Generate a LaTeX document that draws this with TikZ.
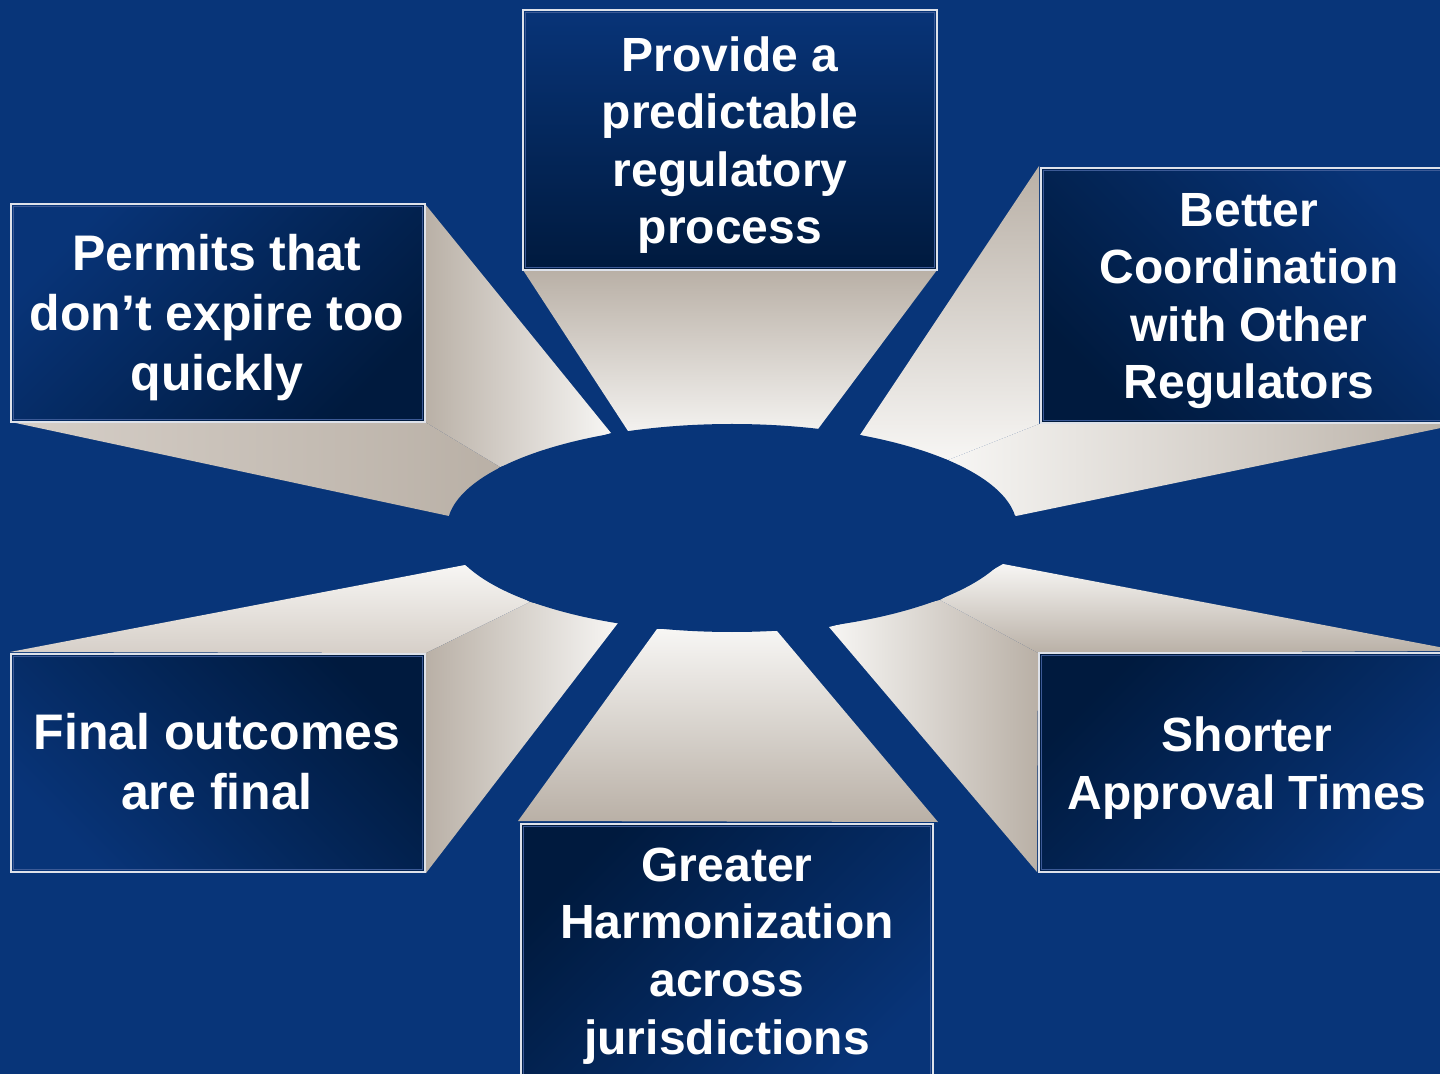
\documentclass[tikz,border=0pt]{standalone}
\usepackage{fontspec}
\setmainfont{Liberation Sans}
\usetikzlibrary{calc}
\definecolor{bg}{RGB}{8,53,121}
\definecolor{boxlight}{RGB}{8,52,120}
\definecolor{boxdark}{RGB}{0,26,62}
\definecolor{taupe}{RGB}{185,176,166}
\definecolor{lighttaupe}{RGB}{214,207,200}
\definecolor{beamwhite}{RGB}{247,246,244}
\definecolor{boxline}{RGB}{222,226,234}
\definecolor{boxinner}{RGB}{60,90,150}
\begin{document}
\begin{tikzpicture}[x=0.5pt,y=-0.5pt,
  panel/.style={draw=boxline, line width=1pt, inner sep=0pt, outer sep=0pt,
    top color=boxlight, bottom color=boxdark},
  innerline/.style={draw=boxinner, line width=0.5pt},
  txt/.style={text=white, font=\fontsize{24}{28.8}\selectfont\bfseries,
    align=center, inner sep=0pt},
  bigtxt/.style={txt, font=\fontsize{25}{30}\selectfont\bfseries}]
\useasboundingbox (0,0) rectangle (1440,1074);
\clip (0,0) rectangle (1440,1074);
\fill[bg] (0,0) rectangle (1440,1074);

% beam: top
\shade[top color=taupe, bottom color=beamwhite]
  (523,270) -- (628,431) -- (732,442) -- (818,429) -- (937,270) -- cycle;
% beam: Permits
\shade[left color=taupe, right color=beamwhite]
  (425,204) -- (611,433) -- (500,467) -- (425,422) -- cycle;
\shade[left color=lighttaupe, right color=taupe]
  (11,422) -- (425,422) -- (500,467) -- (449,516) -- cycle;
% beam: Better
\shade[top color=taupe, bottom color=beamwhite]
  (1039,166) -- (860,435) -- (948,460) -- (1039,424) -- cycle;
\shade[left color=beamwhite, right color=taupe]
  (1039,424) -- (1460,424) -- (1016,516) -- (948,460) -- cycle;
% beam: Final
\shade[top color=beamwhite, bottom color=lighttaupe]
  (10,652) -- (465,565) -- (530,602) -- (426,653) -- cycle;
\shade[left color=taupe, right color=beamwhite]
  (426,653) -- (530,602) -- (618,623) -- (426,873) -- cycle;
% beam: Shorter
\shade[left color=beamwhite, right color=taupe]
  (829,627) -- (940,600) -- (1038,653) -- (1037,872) -- cycle;
\shade[top color=beamwhite, bottom color=taupe]
  (940,600) -- (1003,564) -- (1460,651) -- (1038,653) -- cycle;
% beam: Greater
\shade[top color=beamwhite, bottom color=taupe]
  (518,821) -- (657,629) -- (777,631) -- (938,822) -- cycle;

% central ellipse
\fill[bg] (732,528) ellipse [x radius=285, y radius=104];

% boxes
\node[panel, minimum width=207pt, minimum height=130pt] (tb) at (730,140) {};
\node[panel, shading angle=45, minimum width=207pt, minimum height=109pt] (pb) at (218,313) {};
\node[panel, shading angle=-45, minimum width=209.5pt, minimum height=127.5pt] (rb) at (1250.5,295.5) {};
\node[panel, shading angle=135, minimum width=207pt, minimum height=109pt] (fb) at (218,763) {};
\node[panel, shading angle=-135, minimum width=210.5pt, minimum height=109.5pt] (sb) at (1249.5,762.5) {};
\node[panel, shading angle=-135, minimum width=206pt, minimum height=135.5pt] (gb) at (727,959.5) {};

\foreach \b in {tb,pb,rb,fb,sb,gb}{
  \draw[innerline] ($(\b.north west)+(2.2,2.2)$) rectangle ($(\b.south east)+(-2.2,-2.2)$);
}

% labels
\node[txt] (tt) at (730,145) {Provide a\\predictable\\regulatory\\process};
\node[bigtxt] (pt) at (217,318) {Permits that\\don’t expire too\\quickly};
\node[txt] (rt) at (1249,301) {Better\\Coordination\\with Other\\Regulators};
\node[bigtxt] (ft) at (217,762) {Final outcomes\\are final};
\node[txt] (st) at (1247,768) {Shorter\\Approval Times};
\node[txt] (gt) at (727,956) {Greater\\Harmonization\\across\\jurisdictions};
\end{tikzpicture}
\end{document}
